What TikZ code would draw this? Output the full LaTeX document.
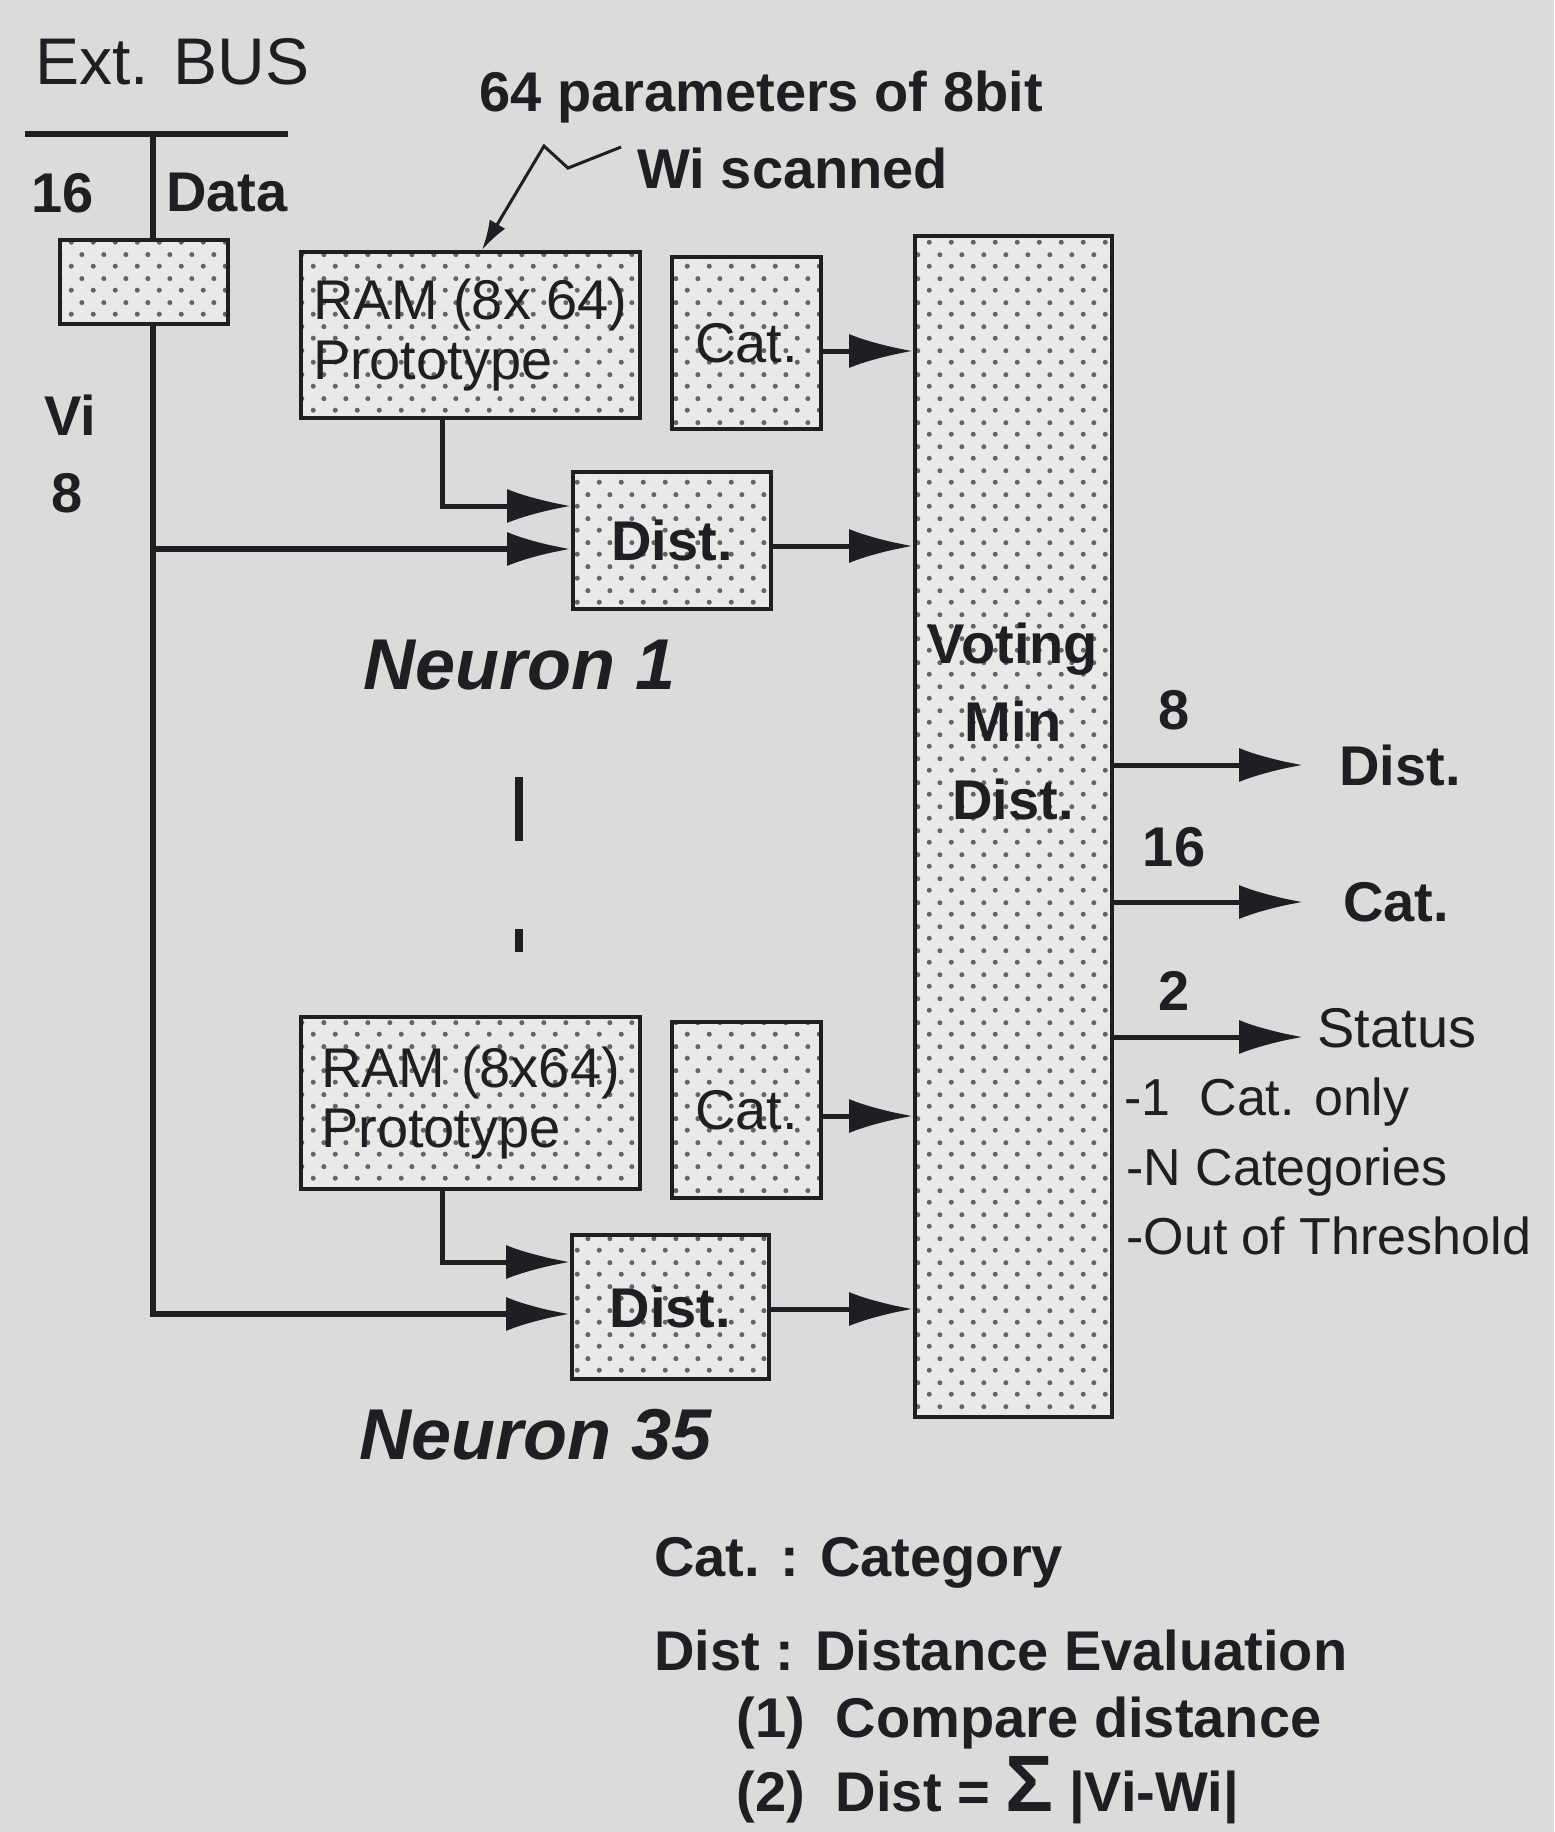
\documentclass[tikz,border=0pt]{standalone}
\usepackage{fontspec}
\setmainfont{Liberation Sans}
\usetikzlibrary{arrows.meta, positioning, patterns}

\definecolor{paper}{RGB}{219,219,217}
\definecolor{boxfill}{RGB}{233,233,231}
\definecolor{dotgray}{RGB}{100,100,100}
\definecolor{ink}{RGB}{30,30,35}

\pgfdeclarepatternformonly{boxdots}{\pgfqpoint{0pt}{0pt}}{\pgfqpoint{11pt}{12pt}}{\pgfqpoint{11pt}{12pt}}{
    \pgfpathcircle{\pgfqpoint{2.75pt}{3pt}}{1.3pt}
    \pgfpathcircle{\pgfqpoint{8.25pt}{9pt}}{1.3pt}
    \pgfusepath{fill}
}

\newcommand\lbl{\fontsize{28}{30}\selectfont}

\begin{document}
\begin{tikzpicture}[
    x=0.5pt, y=-0.5pt,
    node distance=16pt,
    unit/.style={draw=ink, line width=2pt, preaction={fill=boxfill}, pattern=boxdots, pattern color=dotgray, inner sep=2pt, font=\lbl, text=ink},
    bus/.style={draw=ink, line width=3pt},
    sig/.style={draw=ink, line width=2.5pt, -{Latex[length=32pt,width=17pt]}},
    zig/.style={draw=ink, line width=1.5pt, -{Latex[length=15pt,width=9pt]}},
    tag/.style={font=\lbl\bfseries, text=ink, inner sep=0pt},
    note/.style={font=\fontsize{26}{30}\selectfont, text=ink, inner sep=0pt, anchor=west}
]
    \fill[paper] (0,0) rectangle (1554,1832);
    \useasboundingbox (0,0) rectangle (1554,1832);

    \node[tag, font=\fontsize{33}{36}\selectfont, anchor=west] (extbus) at (35,62) {Ext. BUS};
    \node[tag] (w16) at (63,193) {16};
    \node[tag, anchor=west] (data) at (166,193) {Data};
    \node[unit, minimum width=84pt, minimum height=42pt] (latch) at (144,282) {};
    \node[tag] (vi) at (70,415) {Vi};
    \node[tag] (w8) at (67,493) {8};

    \node[unit, minimum width=169.5pt, minimum height=83pt, align=left] (ram1) at (470.5,335) {RAM (8x 64)\\Prototype};
    \node[unit, minimum width=74.5pt, minimum height=86pt] (cat1) at (746.5,343) {Cat.};
    \node[unit, minimum width=99pt, minimum height=68.5pt, font=\lbl\bfseries] (dist1) at (672,540) {Dist.};

    \node[unit, minimum width=169.5pt, minimum height=86pt, align=left] (ram2) at (470.5,1103) {RAM (8x64)\\Prototype};
    \node[unit, minimum width=74.5pt, minimum height=88pt] (cat2) at (746.5,1110) {Cat.};
    \node[unit, minimum width=98.5pt, minimum height=72pt, font=\lbl\bfseries] (dist2) at (670.5,1307) {Dist.};

    \node[unit, minimum width=98.5pt, minimum height=590.5pt] (vote) at (1013.5,826.5) {};
    \node[tag, align=center, font=\fontsize{28}{39}\selectfont\bfseries] (votetxt) at (1013,721) {Voting\\Min\\Dist.};

    \node[tag, font=\fontsize{36}{40}\selectfont\bfseries\itshape] (neu1) at (520,665) {Neuron 1};
    \node[tag, font=\fontsize{36}{40}\selectfont\bfseries\itshape] (neu35) at (536,1435) {Neuron 35};
    \draw[ink, line width=4pt] (519,777) -- (519,841);
    \draw[ink, line width=4pt] (519,929) -- (519,952);

    \node[tag, anchor=west] (params) at (479,97) {64 parameters of 8bit};
    \node[tag, anchor=west] (wscan) at (637,168) {Wi scanned};
    \coordinate (wtip) at ([xshift=91.5pt]ram1.north west);
    \draw[zig] ([xshift=-8pt]wscan.north west) -- ++(-53,21) -- ++(-24,-22) -- (wtip);

    \coordinate (busl) at (25,134);
    \coordinate (busr) at (288,134);
    \coordinate (bustop) at (153,134);
    \draw[bus] (busl) -- (busr);
    \draw[bus] (bustop) -- (latch.north -| bustop);
    \coordinate (d1ram) at ([yshift=17pt]dist1.west);
    \coordinate (d1bus) at ([yshift=-4.5pt]dist1.west);
    \coordinate (d2ram) at ([yshift=22.5pt]dist2.west);
    \coordinate (d2bus) at ([yshift=-3.5pt]dist2.west);
    \draw[sig, line width=3pt] (latch.south -| bustop) |- (d2bus);
    \draw[sig, line width=3pt] (d1bus -| bustop) -- (d1bus);
    \draw[sig] ([xshift=-14.25pt]ram1.south) |- (d1ram);
    \draw[sig] ([xshift=-14.25pt]ram2.south) |- (d2ram);

    \coordinate (c1out) at ([yshift=-4pt]cat1.east);
    \coordinate (d1out) at ([yshift=-3pt]dist1.east);
    \coordinate (c2out) at ([yshift=-3pt]cat2.east);
    \coordinate (d2out) at ([yshift=-1pt]dist2.east);
    \draw[sig] (c1out) -- (c1out -| vote.west);
    \draw[sig] (d1out) -- (d1out -| vote.west);
    \draw[sig] (c2out) -- (c2out -| vote.west);
    \draw[sig] (d2out) -- (d2out -| vote.west);

    \node[tag, anchor=west, inner xsep=18pt] (odist) at (1303,765) {Dist.};
    \node[tag, anchor=west, inner xsep=20pt] (ocat) at (1303,902) {Cat.};
    \node[note, font=\lbl, inner xsep=7pt] (ostat) at (1303,1028) {Status};
    \coordinate (ostatin) at ([yshift=-4.5pt]ostat.west);
    \draw[sig] (odist.west -| vote.east) -- (odist.west);
    \draw[sig] (ocat.west -| vote.east) -- (ocat.west);
    \draw[sig] (ostatin -| vote.east) -- (ostatin);
    \node[tag] (b8) at (1174,710) {8};
    \node[tag] (b16) at (1174,847) {16};
    \node[tag] (b2) at (1174,991) {2};

    \node[note] (st1) at (1124,1102) {-1~~Cat. only};
    \node[note] (st2) at (1126,1172) {-N Categories};
    \node[note] (st3) at (1126,1236) {-Out of Threshold};

    \node[tag, anchor=west] (legcat) at (654,1563) {Cat. : Category};
    \node[tag, below=43.5pt of legcat.west, anchor=west] (legdist) {Dist : Distance Evaluation};
    \node[tag, anchor=west] (leg1) at (736,1723) {(1)~~Compare distance};
    \node[tag, below=33.5pt of leg1.west, anchor=west] (leg2) {(2)~~Dist = {\fontsize{40}{40}\selectfont Σ} |Vi-Wi|};
\end{tikzpicture}
\end{document}
